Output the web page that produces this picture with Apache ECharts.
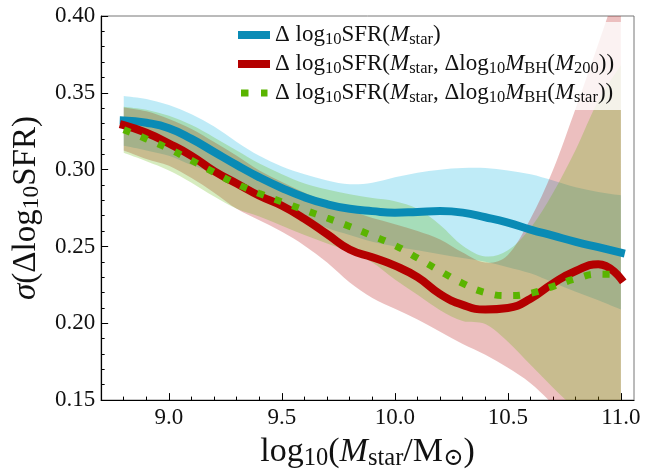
<!DOCTYPE html>
<html>
<head>
<meta charset="utf-8">
<script src="https://cdn.jsdelivr.net/npm/echarts@6/dist/echarts.min.js"></script>
<style>
  html, body { margin: 0; padding: 0; background: #ffffff; }
  #chart { width: 657px; height: 476px; }
</style>
</head>
<body>
<div id="chart"></div>
<script>
// Stellar mass bins, log10(Mstar / Msun)
const logMstar = [8.8, 8.9, 9.0, 9.1, 9.2, 9.3, 9.4, 9.5, 9.6, 9.7, 9.8, 9.9,
                  10.0, 10.1, 10.2, 10.3, 10.4, 10.5, 10.6, 10.7, 10.8, 10.9, 11.0];

// Scatter of the SFR residuals, Delta log10 SFR (Mstar)
const sigmaMstar = [0.332, 0.3305, 0.327, 0.320, 0.3115, 0.303, 0.295, 0.288, 0.282, 0.2775, 0.2745, 0.273,
                    0.272, 0.2725, 0.273, 0.272, 0.269, 0.2655, 0.261, 0.257, 0.253, 0.2495, 0.246];
const sigmaMstarLo = [0.3155, 0.3125, 0.309, 0.303, 0.2975, 0.2905, 0.283, 0.2765, 0.2685, 0.262, 0.2575, 0.253,
                      0.250, 0.2475, 0.245, 0.2425, 0.240, 0.2365, 0.2325, 0.2265, 0.2205, 0.215, 0.209];
const sigmaMstarHi = [0.348, 0.346, 0.342, 0.336, 0.328, 0.318, 0.309, 0.302, 0.297, 0.293, 0.2905, 0.2915,
                      0.295, 0.298, 0.300, 0.301, 0.301, 0.2995, 0.297, 0.293, 0.2885, 0.2855, 0.2833];

// Delta log10 SFR (Mstar, Delta log10 MBH(M200))
const sigmaM200 = [0.329, 0.324, 0.317, 0.309, 0.299, 0.291, 0.283, 0.2765, 0.268, 0.258, 0.248, 0.243,
                   0.2375, 0.230, 0.219, 0.212, 0.209, 0.210, 0.216, 0.226, 0.234, 0.2385, 0.229];
const sigmaM200Lo = [0.3125, 0.307, 0.3025, 0.2945, 0.285, 0.2745, 0.267, 0.2595, 0.2505, 0.2395, 0.2265, 0.2165,
                     0.2095, 0.2025, 0.1945, 0.1865, 0.1795, 0.171, 0.161, 0.147, 0.130, 0.112, 0.095];
const sigmaM200Hi = [0.3405, 0.338, 0.333, 0.3265, 0.318, 0.309, 0.2995, 0.292, 0.285, 0.279, 0.2735, 0.2685,
                     0.2645, 0.260, 0.2545, 0.246, 0.2395, 0.2445, 0.268, 0.300, 0.340, 0.382, 0.425];

// Delta log10 SFR (Mstar, Delta log10 MBH(Mstar))
const sigmaMbhMstar = [0.326, 0.320, 0.3135, 0.306, 0.2982, 0.2907, 0.2845, 0.279, 0.2737, 0.2685, 0.263, 0.257,
                       0.2507, 0.2425, 0.234, 0.226, 0.220, 0.218, 0.2195, 0.224, 0.229, 0.232, 0.2318];
const sigmaMbhMstarLo = [0.311, 0.3055, 0.2995, 0.2915, 0.2825, 0.2745, 0.2695, 0.2635, 0.2575, 0.252, 0.2465, 0.2395,
                         0.2285, 0.2185, 0.2085, 0.2015, 0.1995, 0.188, 0.173, 0.158, 0.144, 0.130, 0.115];
const sigmaMbhMstarHi = [0.341, 0.339, 0.335, 0.329, 0.321, 0.3125, 0.304, 0.297, 0.291, 0.287, 0.284, 0.2815,
                         0.2795, 0.2745, 0.264, 0.2505, 0.2435, 0.2475, 0.262, 0.285, 0.313, 0.345, 0.368];

// Axis ticks
const xMajorTicks = [9.0, 9.5, 10.0, 10.5, 11.0];
const xMinorTicks = [8.8, 8.9, 9.1, 9.2, 9.3, 9.4, 9.6, 9.7, 9.8, 9.9, 10.1, 10.2, 10.3, 10.4, 10.6, 10.7, 10.8, 10.9];

const SERIF = "'Liberation Serif', 'DejaVu Serif', serif";
const BLUE = '#0a8bb5';
const RED = '#b40000';
const GREEN = '#5ab400';
const BLUE_FILL = 'rgba(0,174,223,0.25)';
const RED_FILL = 'rgba(180,0,0,0.25)';
const GREEN_FILL = 'rgba(90,180,0,0.25)';

const pairs = (ys) => logMstar.map((x, i) => [x, ys[i]]);

// Catmull-Rom spline through screen points, as cubic Bezier path commands
function splineCommands(pts) {
  let d = '';
  for (let i = 0; i < pts.length - 1; i++) {
    const p0 = pts[Math.max(i - 1, 0)], p1 = pts[i], p2 = pts[i + 1], p3 = pts[Math.min(i + 2, pts.length - 1)];
    const c1 = [p1[0] + (p2[0] - p0[0]) / 6, p1[1] + (p2[1] - p0[1]) / 6];
    const c2 = [p2[0] - (p3[0] - p1[0]) / 6, p2[1] - (p3[1] - p1[1]) / 6];
    d += 'C' + c1[0].toFixed(2) + ',' + c1[1].toFixed(2) + ' ' + c2[0].toFixed(2) + ',' + c2[1].toFixed(2) +
         ' ' + p2[0].toFixed(2) + ',' + p2[1].toFixed(2);
  }
  return d;
}

// shaded range between a lower and an upper curve
function band(lo, hi, fill) {
  return {
    type: 'custom', clip: true, silent: true, z: 1,
    data: logMstar.map((x, i) => [x, lo[i], hi[i]]),
    encode: { x: 0, y: [1, 2] },
    renderItem: (params, api) => {
      if (params.dataIndex !== 0) return null;
      const n = params.dataInsideLength;
      const upper = [], lower = [];
      for (let i = 0; i < n; i++) {
        upper.push(api.coord([api.value(0, i), api.value(2, i)]));
        lower.push(api.coord([api.value(0, i), api.value(1, i)]));
      }
      lower.reverse();
      const d = 'M' + upper[0][0].toFixed(2) + ',' + upper[0][1].toFixed(2) + splineCommands(upper) +
                'L' + lower[0][0].toFixed(2) + ',' + lower[0][1].toFixed(2) + splineCommands(lower) + 'Z';
      return { type: 'path', shape: { pathData: d }, style: { fill: fill, stroke: null } };
    }
  };
}

const legendLabels = {
  sfrMstar: 'Δ log{s|10}SFR({i|M}{s|star})',
  sfrM200: 'Δ log{s|10}SFR({i|M}{s|star}, Δlog{s|10}{i|M}{s|BH}({i|M}{s|200}))',
  sfrMbhMstar: 'Δ log{s|10}SFR({i|M}{s|star}, Δlog{s|10}{i|M}{s|BH}({i|M}{s|star}))'
};

const legendRich = {
  s: { fontFamily: SERIF, fontSize: 16.5, lineHeight: 13, verticalAlign: 'bottom', color: '#111' },
  i: { fontFamily: SERIF, fontSize: 23, lineHeight: 26, fontStyle: 'italic', color: '#111' }
};
const xNameRich = {
  s: { fontFamily: SERIF, fontSize: 24.5, lineHeight: 17, verticalAlign: 'bottom', color: '#111' },
  i: { fontFamily: SERIF, fontSize: 34, lineHeight: 37, fontStyle: 'italic', color: '#111' }
};
const yNameRich = {
  s: { fontFamily: SERIF, fontSize: 23.5, lineHeight: 17, verticalAlign: 'bottom', color: '#111' },
  i: { fontFamily: SERIF, fontSize: 33, lineHeight: 36, fontStyle: 'italic', color: '#111' }
};

const chart = echarts.init(document.getElementById('chart'), null, { renderer: 'canvas' });

chart.setOption({
  animation: false,
  backgroundColor: '#ffffff',
  grid: { left: 100, right: 23, top: 16, bottom: 58, show: true,
          borderColor: '#777777', borderWidth: 1, backgroundColor: 'transparent' },
  legend: {
    orient: 'vertical', left: 232, top: 22, padding: [0, 8, 4, 6], itemGap: 3,
    itemWidth: 32, itemHeight: 8, selectedMode: false,
    backgroundColor: 'rgba(255,255,255,0.8)',
    data: [
      { name: 'sfrMstar', icon: 'path://M0,0h32v8h-32z' },
      { name: 'sfrM200', icon: 'path://M0,0h32v8h-32z' },
      { name: 'sfrMbhMstar', icon: 'path://M0,0M32,8M3,0.5h7.5v7h-7.5zM23,0.5h6.5v7h-6.5z' }
    ],
    formatter: (name) => legendLabels[name],
    textStyle: { fontFamily: SERIF, fontSize: 23, lineHeight: 26, color: '#111', rich: legendRich }
  },
  xAxis: [
    {
      type: 'value', min: 8.7, max: 11.058,
      name: 'log{s|10}({i|M}{s|star}/M{s|⊙})',
      nameLocation: 'middle', nameGap: 32,
      nameTextStyle: { fontFamily: SERIF, fontSize: 34, lineHeight: 37, color: '#111', rich: xNameRich },
      axisLine: { lineStyle: { color: '#000', width: 1.2 } },
      axisTick: { inside: true, length: 7, customValues: xMajorTicks, lineStyle: { color: '#000', width: 1 } },
      axisLabel: { customValues: xMajorTicks, formatter: (v) => v.toFixed(1), margin: 6,
                   fontFamily: SERIF, fontSize: 23, color: '#111' },
      splitLine: { show: false }
    },
    {
      type: 'value', min: 8.7, max: 11.058, position: 'bottom',
      axisLine: { show: false },
      axisTick: { inside: true, length: 3.5, customValues: xMinorTicks, lineStyle: { color: '#000', width: 1 } },
      axisLabel: { show: false },
      splitLine: { show: false }
    }
  ],
  yAxis: {
    type: 'value', min: 0.15, max: 0.40, interval: 0.05,
    name: '{i|σ}(Δlog{s|10}SFR)',
    nameLocation: 'middle', nameRotate: 90, nameGap: 46,
    nameTextStyle: { fontFamily: SERIF, fontSize: 33, lineHeight: 36, color: '#111', rich: yNameRich },
    axisLine: { show: true, lineStyle: { color: '#000', width: 1.2 } },
    axisTick: { inside: true, length: 7, lineStyle: { color: '#000', width: 1 } },
    minorTick: { show: true, splitNumber: 5, length: 3.5, lineStyle: { color: '#000', width: 1 } },
    axisLabel: { formatter: (v) => v.toFixed(2), margin: 6, fontFamily: SERIF, fontSize: 23, color: '#111' },
    splitLine: { show: false }
  },
  series: [
    band(sigmaMstarLo, sigmaMstarHi, BLUE_FILL),
    band(sigmaM200Lo, sigmaM200Hi, RED_FILL),
    band(sigmaMbhMstarLo, sigmaMbhMstarHi, GREEN_FILL),
    { name: 'sfrMstar', type: 'line', data: pairs(sigmaMstar), smooth: true, symbol: 'none', z: 3,
      itemStyle: { color: BLUE }, lineStyle: { color: BLUE, width: 8, cap: 'square' } },
    { name: 'sfrM200', type: 'line', data: pairs(sigmaM200), smooth: true, symbol: 'none', z: 3,
      itemStyle: { color: RED }, lineStyle: { color: RED, width: 8, cap: 'square' } },
    { name: 'sfrMbhMstar', type: 'line', data: pairs(sigmaMbhMstar), smooth: true, symbol: 'none', z: 3,
      itemStyle: { color: GREEN }, lineStyle: { color: GREEN, width: 7, type: [7, 11.5], cap: 'butt' } }
  ]
});
</script>
</body>
</html>
